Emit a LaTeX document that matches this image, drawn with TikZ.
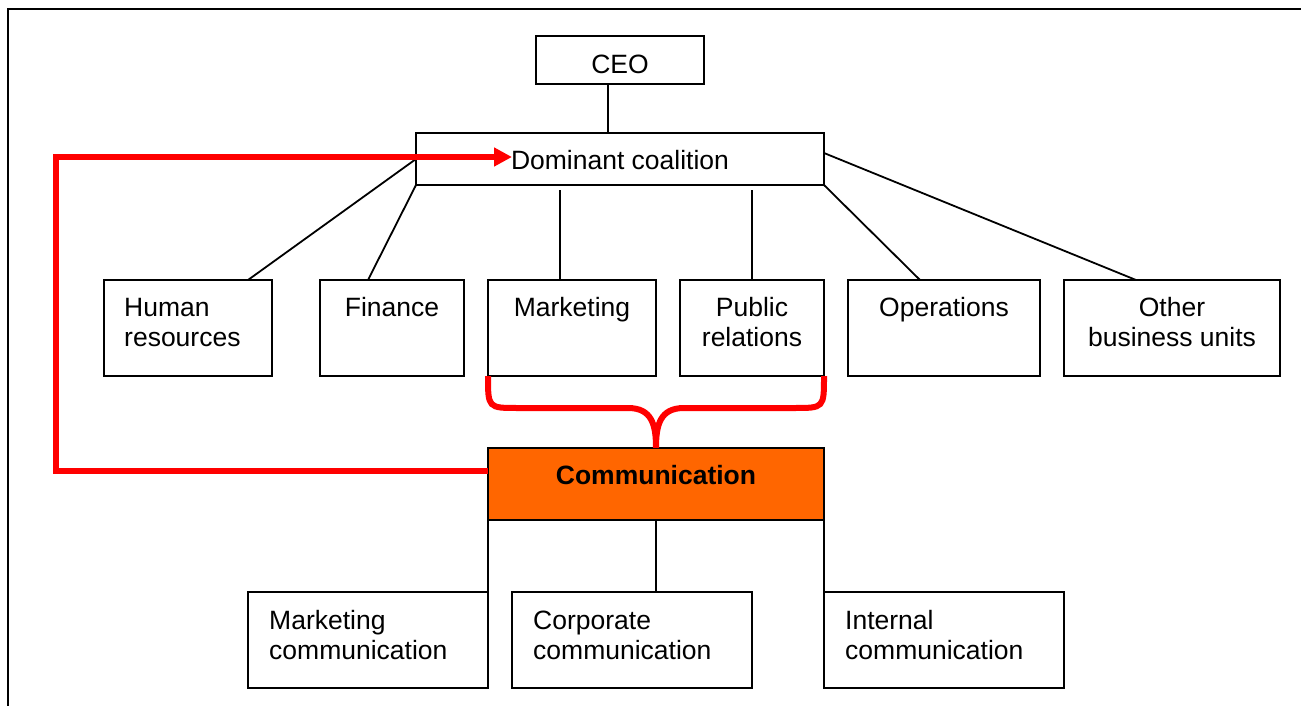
\documentclass[tikz,border=0pt]{standalone}
\usepackage{fontspec}
\setmainfont{Liberation Sans}
\usetikzlibrary{arrows.meta}
\definecolor{commorange}{HTML}{FF6600}
\definecolor{purered}{HTML}{FF0000}
\newcommand{\fl}{\rule{0pt}{21pt}}
\begin{document}
\begin{tikzpicture}[x=1pt,y=-1pt,
  bx/.style={draw, line width=1.8pt, inner sep=0pt, outer sep=0pt, anchor=north west, fill=white},
  txt/.style={inner sep=0pt, font=\fontsize{26.5}{30}\selectfont},
  ln/.style={line width=1.8pt},
  redline/.style={draw=purered, line width=6pt, line join=miter}
]
\useasboundingbox (0,0) rectangle (1301,706);
\draw[line width=2.5pt] (8,706) -- (8,9) -- (1301,9);

% boxes
\node[bx, minimum width=168pt, minimum height=48pt] (ceo) at (536,36) {};
\node[bx, minimum width=408pt, minimum height=52pt] (dc) at (416,133) {};
\node[bx, minimum width=168pt, minimum height=96pt] (hr) at (104,280) {};
\node[bx, minimum width=144pt, minimum height=96pt] (fin) at (320,280) {};
\node[bx, minimum width=168pt, minimum height=96pt] (mk) at (488,280) {};
\node[bx, minimum width=144pt, minimum height=96pt] (pr) at (680,280) {};
\node[bx, minimum width=192pt, minimum height=96pt] (ops) at (848,280) {};
\node[bx, minimum width=216pt, minimum height=96pt] (oth) at (1064,280) {};
\node[bx, minimum width=336pt, minimum height=72pt, fill=commorange] (comm) at (488,448) {};
\node[bx, minimum width=240pt, minimum height=96pt] (mc) at (248,592) {};
\node[bx, minimum width=240pt, minimum height=96pt] (cc) at (512,592) {};
\node[bx, minimum width=240pt, minimum height=96pt] (ic) at (824,592) {};

% connectors
\draw[ln] ([xshift=-12pt]ceo.south) -- ([xshift=-12pt]ceo.south |- dc.north);
\draw[ln] (dc.west) -- ([xshift=60pt]hr.north);
\draw[ln] (dc.south west) -- ([xshift=-24pt]fin.north);
\draw[ln] ([xshift=-12pt]mk.north) -- ++(0,-90);
\draw[ln] (pr.north) -- ++(0,-90);
\draw[ln] (dc.south east) -- ([xshift=-24pt]ops.north);
\draw[ln] ([yshift=6pt]dc.east) -- ([xshift=-36pt]oth.north);
\draw[ln] (comm.south) -- (comm.south |- cc.north);
\draw[ln] (comm.south west) -- (mc.north east);
\draw[ln] (comm.south east) -- (ic.north west);

% red connectors
\coordinate (cs) at (488,471);
\coordinate (tip) at (512,157);
\draw[redline, -{Triangle[length=18pt,width=18pt]}] (cs) -- (56,471) -- (56,157) -- (tip);
\draw[redline] (mk.south west) .. controls (488,408) .. (518,408) -- (628,408)
  .. controls (652,408) and (656,425) .. (comm.north)
  .. controls (656,425) and (660,408) .. (684,408) -- (794,408)
  .. controls (824,408) .. (pr.south east);

% texts
\node[txt, anchor=north] (tceo) at (620,52.5) {\fl CEO};
\node[txt, anchor=north] (tdc) at (620,148.5) {\fl Dominant coalition};
\node[txt, anchor=north west, align=left] (thr) at (124,295.5) {\fl Human\\resources};
\node[txt, anchor=north] (tfin) at (392,295.5) {\fl Finance};
\node[txt, anchor=north] (tmk) at (572,295.5) {\fl Marketing};
\node[txt, anchor=north, align=center] (tpr) at (752,295.5) {\fl Public\\relations};
\node[txt, anchor=north] (tops) at (944,295.5) {\fl Operations};
\node[txt, anchor=north, align=center] (toth) at (1172,295.5) {\fl Other\\business units};
\node[txt, anchor=north, font=\fontsize{26.5}{30}\selectfont\bfseries] (tcomm) at (656,463.5) {\fl Communication};
\node[txt, anchor=north west, align=left] (tmc) at (269,608.5) {\fl Marketing\\communication};
\node[txt, anchor=north west, align=left] (tcc) at (533,608.5) {\fl Corporate\\communication};
\node[txt, anchor=north west, align=left] (tic) at (845,608.5) {\fl Internal\\communication};
\end{tikzpicture}
\end{document}
